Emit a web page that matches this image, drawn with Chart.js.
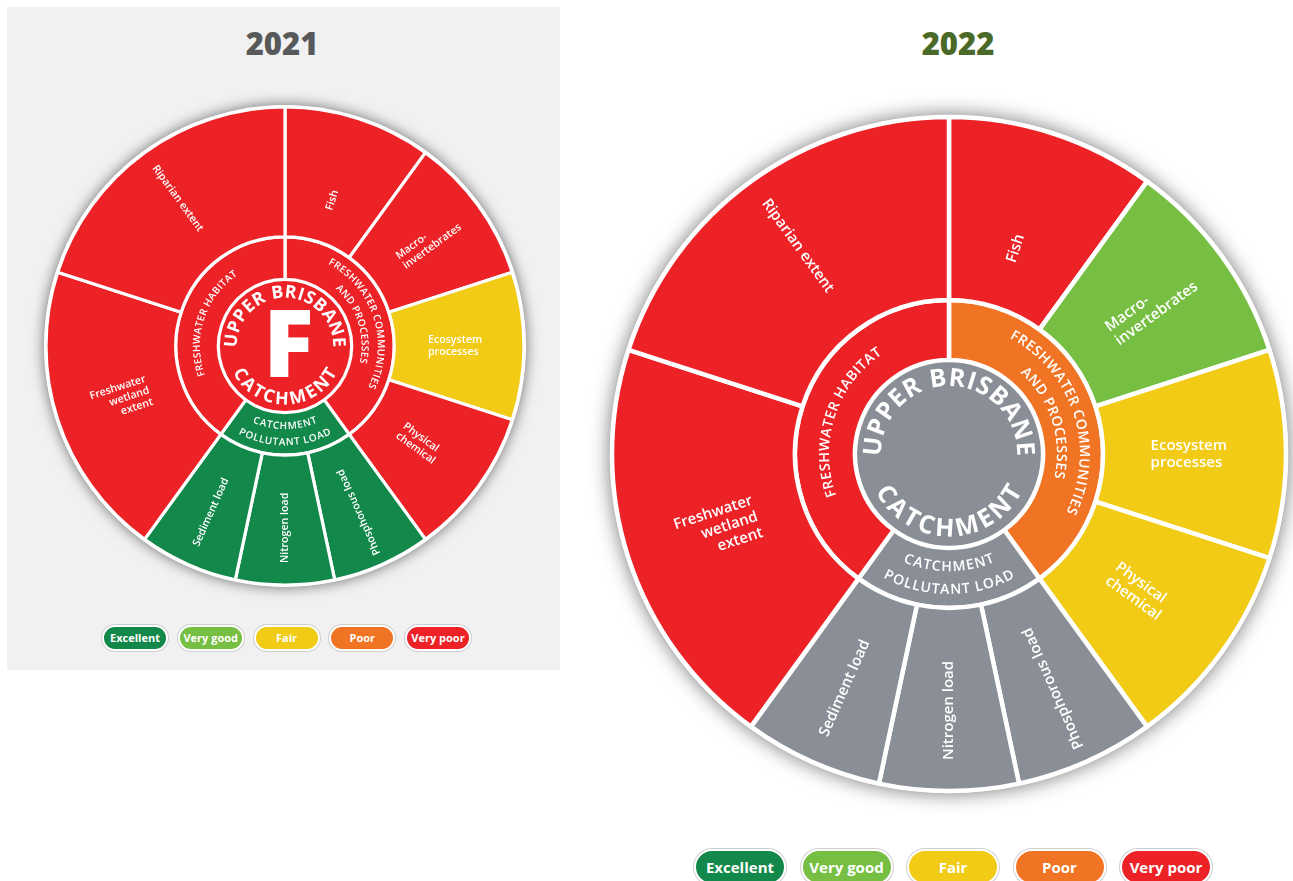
<!DOCTYPE html>
<html>
<head>
<meta charset="utf-8">
<title>Upper Brisbane catchment</title>
<script src="https://cdn.jsdelivr.net/npm/chart.js@4.4.1/dist/chart.umd.min.js"></script>
<style>
    html, body {
        margin: 0;
        padding: 0;
        width: 1293px;
        height: 881px;
        overflow: hidden;
        background: #fff;
        font-family: Lato, 'Open Sans', sans-serif;
    }
    #panel-2021 {
        position: absolute;
        left: 7px;
        top: 7px;
        width: 553px;
        height: 663px;
        background: #f1f1f1;
    }
    .year {
        position: absolute;
        width: 200px;
        text-align: center;
        font: 800 31px 'Open Sans', sans-serif;
    }
    .wheel {
        position: absolute;
    }
    .legend {
        position: absolute;
        display: flex;
    }
    .pill {
        box-sizing: border-box;
        color: #fff;
        font-family: 'Open Sans', sans-serif;
        font-weight: 700;
        text-align: center;
        border: 2px solid #fff;
        box-shadow: 0 0 0 1px #cfcfcf;
    }
</style>
</head>
<body>

<div id="panel-2021"></div>

<div class="year" id="year-2021" style="left:182px; top:22px; color:#58595b;">2021</div>
<div class="year" id="year-2022" style="left:858px; top:22px; color:#4b6a28;">2022</div>

<canvas class="wheel" id="wheel-2021" width="540" height="540" style="left:15px; top:76px;"></canvas>
<canvas class="wheel" id="wheel-2022" width="720" height="720" style="left:589px; top:94px;"></canvas>

<div class="legend" id="legend-2021" style="left:102px; top:625px;"></div>
<div class="legend" id="legend-2022" style="left:694px; top:849px;"></div>

<script>
    // report card grades
    const GRADE_NAMES = ['Excellent', 'Very good', 'Fair', 'Poor', 'Very poor'];
    const GRADE_COLOURS = ['#12884a', '#77bf43', '#f1cb15', '#f17425', '#ec2227'];
    const NOT_SCORED = '#8a8e96';

    // outer ring, clockwise from the top, size of each slice in degrees
    const INDICATORS = ['Fish', 'Macro-\ninvertebrates', 'Ecosystem\nprocesses', 'Physical\nchemical',
                        'Phosphorous load', 'Nitrogen load', 'Sediment load',
                        'Freshwater\nwetland\nextent', 'Riparian extent'];
    const INDICATOR_SPAN = [36, 36, 36, 36, 24, 24, 24, 72, 72];

    // middle ring
    const INDEXES = ['FRESHWATER COMMUNITIES\nAND PROCESSES', 'CATCHMENT\nPOLLUTANT LOAD', 'FRESHWATER HABITAT'];
    const INDEX_SPAN = [144, 72, 144];

    const CATCHMENT_TOP = 'UPPER BRISBANE';
    const CATCHMENT_BOTTOM = 'CATCHMENT';

    // null = not scored that year
    const INDICATOR_GRADES_2021 = ['Very poor', 'Very poor', 'Fair', 'Very poor',
                                   'Excellent', 'Excellent', 'Excellent', 'Very poor', 'Very poor'];
    const INDEX_GRADES_2021 = ['Very poor', 'Excellent', 'Very poor'];
    const OVERALL_GRADE_2021 = 'Very poor';
    const OVERALL_LETTER_2021 = 'F';

    const INDICATOR_GRADES_2022 = ['Very poor', 'Very good', 'Fair', 'Fair',
                                   null, null, null, 'Very poor', 'Very poor'];
    const INDEX_GRADES_2022 = ['Poor', null, 'Very poor'];
    const OVERALL_GRADE_2022 = null;
    const OVERALL_LETTER_2022 = '';

    const FONT = '"Open Sans", Lato, sans-serif';

    function gradeColour(grade) {
        var i = GRADE_NAMES.indexOf(grade);
        return i < 0 ? NOT_SCORED : GRADE_COLOURS[i];
    }

    /******************* text helpers *********************/

    // writes text round a circle, one glyph at a time
    function arcText(ctx, text, cx, cy, r, centre, clockwise, spacing) {
        var chars = Array.from(text);
        var widths = chars.map((ch) => ctx.measureText(ch).width);
        var total = widths.reduce((a, b) => a + b, 0) + spacing * (chars.length - 1);
        var dir = clockwise ? 1 : -1;
        var phi = centre - dir * total / r / 2;
        chars.forEach((ch, i) => {
            var half = widths[i] / 2 / r;
            phi += dir * half;
            ctx.save();
            ctx.translate(cx + r * Math.cos(phi), cy + r * Math.sin(phi));
            ctx.rotate(clockwise ? phi + Math.PI / 2 : phi - Math.PI / 2);
            ctx.fillText(ch, 0, 0);
            ctx.restore();
            phi += dir * (half + spacing / r);
        });
    }

    /******************* plugins *********************/

    // soft shadow under the whole wheel
    const wheelShadow = {
        id: 'wheelShadow',
        beforeDatasetsDraw(chart) {
            var arc = chart.getDatasetMeta(0).data[0];
            if (!arc) return;
            var ctx = chart.ctx;
            ctx.save();
            ctx.shadowColor = 'rgba(0, 0, 0, 0.55)';
            ctx.shadowBlur = 20 * chart.options.wheelScale;
            ctx.beginPath();
            ctx.arc(arc.x, arc.y, arc.outerRadius + 2, 0, Math.PI * 2);
            ctx.fillStyle = '#fff';
            ctx.fill();
            ctx.restore();
        }
    };

    const wheelLabels = {
        id: 'wheelLabels',
        afterDatasetsDraw(chart) {
            var ctx = chart.ctx;
            var s = chart.options.wheelScale;
            ctx.save();
            ctx.fillStyle = '#fff';

            // indicators: straight text along the radius, wide slices start near the inner edge
            ctx.font = '600 ' + (15 * s) + 'px ' + FONT;
            ctx.textBaseline = 'middle';
            var lh = 17 * s;
            chart.getDatasetMeta(0).data.forEach((arc, i) => {
                var p = arc.getProps(['x', 'y', 'startAngle', 'endAngle', 'innerRadius', 'outerRadius']);
                var mid = (p.startAngle + p.endAngle) / 2;
                var fromTop = mid + Math.PI / 2;
                var outward = fromTop < Math.PI * 0.8;
                var narrow = p.endAngle - p.startAngle < Math.PI / 6;
                var r = p.innerRadius + (narrow ? 0.56 : 0.26) * (p.outerRadius - p.innerRadius);
                var lines = INDICATORS[i].split('\n');
                ctx.save();
                ctx.translate(p.x + r * Math.cos(mid), p.y + r * Math.sin(mid));
                ctx.rotate(outward ? mid : mid + Math.PI);
                ctx.textAlign = narrow ? 'center' : (outward ? 'left' : 'right');
                lines.forEach((line, j) => {
                    ctx.fillText(line, 0, (j - (lines.length - 1) / 2) * lh);
                });
                ctx.restore();
            });

            // indexes: caps bent round the middle ring
            ctx.font = '600 ' + (14 * s) + 'px ' + FONT;
            ctx.textAlign = 'center';
            chart.getDatasetMeta(1).data.forEach((arc, i) => {
                var p = arc.getProps(['x', 'y', 'startAngle', 'endAngle', 'innerRadius', 'outerRadius']);
                var mid = (p.startAngle + p.endAngle) / 2;
                var fromTop = mid + Math.PI / 2;
                var bottom = Math.abs(fromTop - Math.PI) < 0.5;
                var lines = INDEXES[i].split('\n');
                var w = p.outerRadius - p.innerRadius;
                lines.forEach((line, j) => {
                    var f = lines.length == 1 ? 0.5 : (j == 0 ? 0.68 : 0.3);
                    if (bottom && lines.length > 1) f = 1 - f;
                    arcText(ctx, line, p.x, p.y, p.innerRadius + f * w, mid, !bottom, 0.8 * s);
                });
            });

            // catchment name round the centre and the overall letter
            var centre = chart.getDatasetMeta(2).data[0];
            var c = centre.getProps(['x', 'y', 'outerRadius']);
            ctx.font = '700 ' + (25 * s) + 'px ' + FONT;
            arcText(ctx, CATCHMENT_TOP, c.x, c.y, c.outerRadius * 0.8, -Math.PI / 2, true, 2.2 * s);
            arcText(ctx, CATCHMENT_BOTTOM, c.x, c.y, c.outerRadius * 0.8, Math.PI / 2, false, 1.5 * s);
            var letter = chart.options.overallLetter;
            if (letter) {
                ctx.font = '800 ' + (132 * s) + 'px ' + FONT;
                ctx.fillText(letter, c.x + 5 * s, c.y + 6 * s);
            }
            ctx.restore();
        }
    };

    /******************* wheels *********************/

    function createWheel(canvasId, radius, indicatorGrades, indexGrades, overallGrade, letter) {
        var s = radius / 337;
        var ctx = document.getElementById(canvasId).getContext('2d');
        var border = Math.max(3, 4.5 * s);
        return new Chart(ctx, {
            type: 'doughnut',
            data: {
                labels: INDICATORS,
                datasets: [{
                    data: INDICATOR_SPAN,
                    backgroundColor: indicatorGrades.map(gradeColour),
                    borderWidth: border,
                    weight: 183,
                }, {
                    data: INDEX_SPAN,
                    backgroundColor: indexGrades.map(gradeColour),
                    borderWidth: border,
                    weight: 60,
                }, {
                    // the middle ring's border already rings the centre
                    data: [360],
                    backgroundColor: [gradeColour(overallGrade)],
                    borderWidth: 0,
                    weight: 94,
                }]
            },
            options: {
                responsive: false,
                animation: false,
                cutout: 0,
                radius: radius,
                wheelScale: s,
                overallLetter: letter,
                layout: {padding: 0},
                elements: {
                    arc: {borderColor: '#fff'}
                },
                plugins: {
                    legend: {display: false},
                    tooltip: {enabled: false},
                },
            },
            plugins: [wheelShadow, wheelLabels],
        });
    }

    function createLegend(id, width, height, gap, fontSize) {
        var box = document.getElementById(id);
        box.style.gap = gap + 'px';
        GRADE_NAMES.forEach((name, i) => {
            var pill = document.createElement('div');
            pill.className = 'pill';
            pill.textContent = name;
            pill.style.background = GRADE_COLOURS[i];
            pill.style.width = width + 'px';
            pill.style.height = height + 'px';
            pill.style.lineHeight = (height - 4) + 'px';
            pill.style.borderRadius = (height / 2) + 'px';
            pill.style.fontSize = fontSize + 'px';
            box.appendChild(pill);
        });
    }

    createWheel('wheel-2021', 239, INDICATOR_GRADES_2021, INDEX_GRADES_2021, OVERALL_GRADE_2021, OVERALL_LETTER_2021);
    createWheel('wheel-2022', 337, INDICATOR_GRADES_2022, INDEX_GRADES_2022, OVERALL_GRADE_2022, OVERALL_LETTER_2022);

    createLegend('legend-2021', 66, 26, 9.75, 11);
    createLegend('legend-2022', 92, 36, 14.5, 15);
</script>
</body>
</html>
